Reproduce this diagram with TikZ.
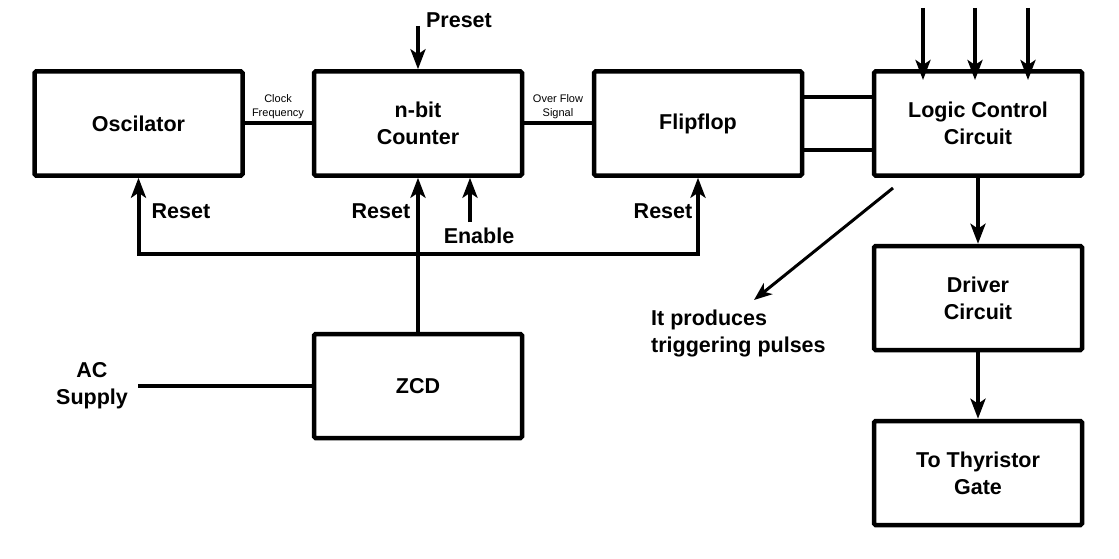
\documentclass[tikz,border=0pt]{standalone}
\usepackage{fontspec}
\setmainfont{Liberation Sans}
\usetikzlibrary{arrows.meta}
\tikzset{
  blk/.style={draw, line width=4.5pt, rounded corners=1.5pt, minimum width=208pt, minimum height=104pt, align=center, inner sep=0pt, font=\bfseries\fontsize{21.5}{27}\selectfont},
  lbl/.style={inner sep=0pt, align=center, font=\bfseries\fontsize{21.5}{27}\selectfont},
  small/.style={inner sep=0pt, align=center, font=\fontsize{11}{14}\selectfont},
  wire/.style={line width=4pt},
  arr/.style={line width=4pt, -{Stealth[length=20pt,width=15pt,inset=5pt]}},
  thinarr/.style={line width=3pt, -{Stealth[length=18pt,width=14pt,inset=5pt]}}
}
\begin{document}
\begin{tikzpicture}[x=1pt,y=-1pt]
\useasboundingbox (0,0) rectangle (1119,559);
\node[blk] (osc) at (138.5,123.5) {Oscilator};
\node[blk] (cnt) at (418,123.5) {n-bit\\Counter};
\node[blk] (ff) at (698,123.5) {Flipflop};
\node[blk] (lc) at (978,123.5) {Logic Control\\Circuit};
\node[blk] (drv) at (978,298) {Driver\\Circuit};
\node[blk] (thy) at (978,473) {To Thyristor\\Gate};
\node[blk] (zcd) at (418,386) {ZCD};

% connectors between top row
\draw[wire] (osc.east) -- (cnt.west);
\draw[wire] (cnt.east) -- (ff.west);
\draw[wire] ([yshift=26pt]ff.east) -- ([yshift=26pt]lc.west);
\draw[wire] ([yshift=-27pt]ff.east) -- ([yshift=-27pt]lc.west);
\node[small] (clk) at (278,107) {Clock\\Frequency};
\node[small] (ovf) at (558,107) {Over Flow\\Signal};

% preset
\coordinate (pre) at (418,26);
\draw[arr] (pre) -- (cnt.north);
\node[lbl] (prel) at (459,20) {Preset};

% logic inputs
\coordinate (in1) at (923,8);
\coordinate (in2) at (975,8);
\coordinate (in3) at (1028,8);
\coordinate (t1) at (923,80);
\coordinate (t2) at (975,80);
\coordinate (t3) at (1028,80);
\draw[arr] (in1) -- (t1);
\draw[arr] (in2) -- (t2);
\draw[arr] (in3) -- (t3);

% reset bus
\coordinate (bus) at (418,254);
\draw[arr] (zcd.north) -- (cnt.south);
\draw[arr, line join=miter] (bus) -| (osc.south);
\draw[arr, line join=miter] (bus) -| (ff.south);
\node[lbl] (r1) at (181,211) {Reset};
\node[lbl] (r2) at (381,211) {Reset};
\node[lbl] (r3) at (663,211) {Reset};

% enable
\coordinate (en) at (470,222);
\draw[arr] (en) -- (en |- cnt.south);
\node[lbl] (enl) at (479,236) {Enable};

% logic to driver to thyristor
\draw[arr] (lc.south) -- (drv.north);
\draw[arr] (drv.south) -- (thy.north);

% triggering pulses note
\coordinate (ds) at (893,188);
\coordinate (de) at (754,300);
\draw[thinarr] (ds) -- (de);
\node[lbl, align=left, anchor=west] (note) at (651,333) {It produces\\triggering pulses};

% AC supply
\coordinate (ac) at (138,386);
\draw[wire] (zcd.west) -- (ac);
\node[lbl] (acl) at (92,386) {AC\\Supply};
\end{tikzpicture}
\end{document}
